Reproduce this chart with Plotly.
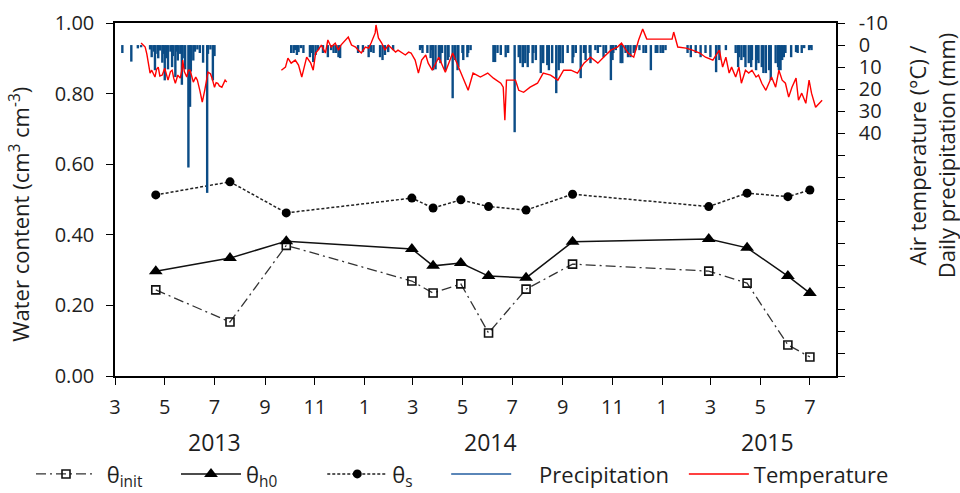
import plotly.graph_objects as go
import pandas as pd

START = pd.Timestamp("2013-03-01")

# ---- soil water content samples ----
sample_dates = ["2013-04-20", "2013-07-20", "2013-09-27", "2014-02-28", "2014-03-26",
                "2014-04-29", "2014-06-02", "2014-07-18", "2014-09-13", "2015-02-27",
                "2015-04-15", "2015-06-04", "2015-07-01"]
theta_init = [0.244, 0.153, 0.370, 0.269, 0.235, 0.261, 0.122, 0.246, 0.317, 0.297, 0.263, 0.088, 0.054]
theta_h0 = [0.297, 0.334, 0.382, 0.360, 0.312, 0.320, 0.283, 0.278, 0.380, 0.388, 0.363, 0.283, 0.235]
theta_s = [0.513, 0.550, 0.462, 0.504, 0.476, 0.499, 0.480, 0.470, 0.515, 0.480, 0.518, 0.508, 0.527]

# ---- daily air temperature (days since 2013-03-01, degC); None = no data ----
temp_day = [32, 35, 37, 39, 41, 43, 45, 47, 49, 51, 53, 55, 58, 61, 63, 65, 68, 70, 72, 74, 77, 80, 82, 83,
            85, 88, 90, 92, 94, 96, 99, 101, 104, 107, 110, 112, 114, 117, 119, 122, 124, 126, 128, 131,
            133, 135, 137,
            170,
            204, 209, 212, 216, 221, 225, 229, 231, 235, 240, 243, 246, 249, 253, 258, 261, 265, 270, 274,
            277, 282, 286, 290, 295, 298, 302, 307, 311, 314, 319, 320, 323, 327, 331, 335, 339, 344, 347,
            351, 356, 360, 363, 368, 372, 376, 381, 384, 389, 397, 405, 414, 421, 427, 433, 439, 448, 457,
            464, 473, 476, 478, 480, 491, 495, 501, 509, 518, 525, 534, 543, 550, 559, 567, 575, 583, 592,
            599, 608, 616, 621, 629, 636, 642, 647, 651, 652, 683, 685, 690, 700, 708, 717, 724, 733, 741,
            745, 749, 753, 756, 761, 765, 768, 773, 777, 781, 786, 789, 793, 798, 802, 805, 810, 814, 818,
            822, 826, 830, 835, 838, 842, 847, 851, 854, 859, 863, 867]
temp_c = [-0.9, 0.5, 0.9, 4.0, 8.2, 12.7, 11.4, 13.0, 14.5, 11.0, 10.0, 14.0, 13.6, 10.5, 14.0, 15.9, 12.0,
          11.4, 15.0, 17.3, 13.6, 15.0, 11.4, 6.8, 12.0, 14.5, 11.4, 11.4, 14.0, 16.8, 14.5, 15.9, 20.5,
          25.9, 20.5, 16.0, 12.3, 13.0, 15.0, 19.1, 17.0, 17.3, 18.5, 19.1, 17.0, 15.9, 16.8,
          None,
          11.4, 10.0, 5.9, 8.2, 6.8, 9.1, 14.5, 11.4, 5.5, 8.2, 11.4, 3.6, 2.3, 0.0, 3.6, -2.3, 0.9, -0.9,
          2.3, 0.0, -2.3, -3.6, 0.0, 0.9, 2.3, 3.6, 0.9, 1.4, -0.9, -5.5, -9.1, -3.2, -0.9, 2.3, 0.0, 1.4,
          3.2, 2.3, 3.2, 4.5, 3.2, 3.6, 6.8, 12.7, 6.8, 4.5, 8.2, 11.4, 5.5, 12.3, 3.6, 10.0, 15.9, 20.5,
          12.7, 14.5, 12.7, 15.0, 17.3, 19.1, 34.1, 15.9, 15.9, 20.5, 21.4, 19.1, 17.3, 12.7, 13.6, 15.9,
          11.4, 11.4, 12.7, 8.2, 5.5, 8.2, 5.5, 2.3, 0.9, -0.9, 3.6, 5.5, -2.3, -7.3, -3.6, -2.7, -2.7,
          -5.9, 0.9, 1.4, 2.3, 3.6, 5.5, 6.8, 2.3, 10.0, 5.5, 12.7, 10.0, 14.5, 10.0, 17.3, 11.4, 12.7,
          11.4, 14.5, 13.6, 17.3, 20.5, 17.3, 14.5, 19.1, 11.4, 15.9, 17.3, 23.6, 19.1, 15.0, 25.0, 21.8,
          26.4, 15.9, 21.8, 28.2, 26.4, 25.0]

# ---- daily precipitation (days since 2013-03-01, mm) ----
precip_day = [9, 20, 28, 32, 43, 45, 48, 49, 52, 53, 55, 58, 59, 61, 63, 65, 68, 70, 71, 74, 76, 77, 80,
              82, 83, 86, 90, 92, 93, 96, 98, 101, 104, 108, 113, 114, 117, 120, 122,
              216, 219, 221, 223, 225, 228, 231, 239, 241, 243, 246, 249, 255, 261, 265, 268, 271, 274,
              276, 298, 304, 311, 314, 317, 325, 328, 331, 335, 341, 374, 376, 377, 383, 387, 389, 390,
              393, 397, 399, 401, 405, 408, 409, 414, 417, 420, 421, 426, 427, 432, 433, 436, 464, 466,
              469, 473, 479, 482, 490, 495, 497, 500, 503, 506, 507, 512, 513, 516, 522, 525, 530, 532,
              536, 541, 544, 546, 549, 555, 561, 562, 565, 571, 575, 577, 582, 583, 589, 592, 595, 599,
              602, 608, 610, 611, 614, 620, 622, 626, 629, 632, 636, 638, 643, 648, 651, 657, 663, 665,
              669, 672, 675, 702, 706, 712, 718, 724, 730, 737, 740, 741, 749, 761, 764, 765, 768, 771,
              773, 777, 780, 781, 786, 788, 789, 793, 795, 798, 802, 804, 810, 813, 814, 816, 818, 820,
              822, 829, 835, 837, 842, 845, 851, 853, 854]
precip_mm = [3.6, 7.5, 1.5, 1.0, 2.0, 5.5, 3.0, 11.4, 4.0, 6.0, 2.5, 8.0, 4.0, 16.0, 6.0, 11.0, 3.0, 10.0,
             5.0, 14.5, 3.0, 7.0, 4.0, 18.0, 6.0, 11.0, 55.5, 28.0, 12.0, 7.0, 3.0, 2.0, 3.6, 8.0, 67.0,
             4.0, 2.0, 16.0, 5.0,
             3.6, 3.6, 2.3, 4.5, 3.2, 1.4, 3.6, 5.5, 3.6, 7.7, 4.5, 2.3, 3.6, 5.5, 2.3, 3.6, 3.6, 5.5,
             5.9, 3.6, 3.2, 5.5, 3.2, 3.6, 5.5, 6.8, 4.5, 3.2, 2.3, 2.3, 1.4, 3.6, 3.6, 5.9, 2.3, 11.4,
             11.0, 6.8, 8.2, 3.6, 11.4, 6.8, 5.5, 24.1, 6.8, 11.4, 10.0, 3.6, 6.8, 5.5, 3.6, 2.3, 7.7,
             7.7, 3.6, 4.5, 5.5, 3.6, 39.5, 5.5, 8.2, 10.0, 8.2, 10.0, 3.6, 8.2, 3.6, 6.8, 12.7, 8.2,
             9.1, 11.4, 8.2, 21.8, 11.4, 8.2, 8.2, 3.6, 8.2, 5.5, 3.6, 15.0, 3.6, 6.8, 3.6, 8.2, 2.3,
             3.6, 0.9, 5.5, 3.6, 15.9, 6.8, 3.6, 2.3, 8.2, 8.2, 3.6, 5.5, 5.5, 3.6, 2.3, 2.3, 3.6, 3.6,
             11.4, 3.6, 3.6, 3.6, 3.6, 2.3, 3.6, 5.5, 3.6, 5.5, 3.6, 5.5, 12.3, 3.6, 6.8, 2.3, 3.6,
             10.0, 5.5, 6.8, 5.5, 10.0, 8.2, 10.0, 6.8, 11.4, 6.8, 8.2, 10.0, 12.7, 12.7, 11.4, 15.9,
             8.2, 10.0, 11.4, 11.4, 6.8, 5.5, 3.6, 5.5, 3.2, 3.6, 3.6, 1.4, 2.3, 1.4, 2.3]

# ---- axis ticks / labels ----
month_tick_dates = ["2013-03-01", "2013-05-01", "2013-07-01", "2013-09-01", "2013-11-01",
                    "2014-01-01", "2014-03-01", "2014-05-01", "2014-07-01", "2014-09-01", "2014-11-01",
                    "2015-01-01", "2015-03-01", "2015-05-01", "2015-07-01"]
month_tick_labels = ["3", "5", "7", "9", "11", "1", "3", "5", "7", "9", "11", "1", "3", "5", "7"]
years = ["2013", "2014", "2015"]
year_label_dates = ["2013-07-01", "2014-06-04", "2015-05-10"]
left_tick_vals = [0.0, 0.2, 0.4, 0.6, 0.8, 1.0]
right_tick_vals = [-10, 0, 10, 20, 30, 40]
right_tick_text = ["-10", "0", "10", "20", "30", "40"]
right_minor_vals = list(range(50, 151, 10))

FONT = "Open Sans"
TXT = "#1e1e1e"
NB = "\u00a0"

temp_x = [START + pd.Timedelta(days=d) for d in temp_day]
pr_x, pr_y = [], []
for d, v in zip(precip_day, precip_mm):
    t = START + pd.Timedelta(days=d)
    pr_x += [t, t, None]
    pr_y += [0, v, None]

fig = go.Figure()

fig.add_trace(go.Scatter(
    x=sample_dates, y=theta_init, name=NB + "θ<sub>init</sub>" + NB * 5, mode="lines+markers",
    line=dict(color="#333333", width=1.3, dash="10px,4px,2px,4px"),
    marker=dict(symbol="square-open", size=8, color="#111111", line=dict(width=1.6, color="#111111")),
))
fig.add_trace(go.Scatter(
    x=sample_dates, y=theta_h0, name="θ<sub>h0</sub>" + NB * 7, mode="lines+markers",
    line=dict(color="#111111", width=1.5),
    marker=dict(symbol="triangle-up", size=12, color="#000000"),
))
fig.add_trace(go.Scatter(
    x=sample_dates, y=theta_s, name="θ<sub>s</sub>" + NB * 5, mode="lines+markers",
    line=dict(color="#222222", width=1.5, dash="3px,2px"),
    marker=dict(symbol="circle", size=9, color="#000000"),
))
fig.add_trace(go.Scatter(
    x=pr_x, y=pr_y, yaxis="y2", mode="lines", name="Precipitation", showlegend=False,
    line=dict(color="#0b4c86", width=2.4), legendgroup="p",
))
fig.add_trace(go.Scatter(
    x=[None], y=[None], yaxis="y2", mode="lines", name=NB * 4 + "Precipitation",
    line=dict(color="#5a86b8", width=2), legendgroup="p",
))
fig.add_trace(go.Scatter(
    x=temp_x, y=temp_c, yaxis="y2", mode="lines", name="Temperature", legend="legend2",
    line=dict(color="#ff0000", width=1.4),
))

for yr, d in zip(years, year_label_dates):
    fig.add_annotation(x=d, y=-0.187, xref="x", yref="paper", text=yr, showarrow=False,
                       font=dict(family=FONT, size=23, color=TXT), yanchor="middle")

fig.add_annotation(x=-0.132, y=0.459, xref="paper", yref="paper", textangle=-90, showarrow=False,
                   text="Water content (cm<sup>3</sup> cm<sup>-3</sup>)",
                   font=dict(family=FONT, size=22, color=TXT), xanchor="center", yanchor="middle")
fig.add_annotation(x=1.132, y=0.626, xref="paper", yref="paper", textangle=-90, showarrow=False,
                   text="Air temperature (°C) /<br>Daily precipitation (mm)",
                   font=dict(family=FONT, size=22, color=TXT), xanchor="center", yanchor="middle")

axis_common = dict(showline=True, linecolor="#000000", linewidth=1.5, ticks="outside", ticklen=7,
                   tickcolor="#000000", tickwidth=1.2, showgrid=False, zeroline=False,
                   tickfont=dict(family=FONT, size=20, color=TXT))
legend_common = dict(orientation="h", y=-0.278, xanchor="left", yanchor="middle",
                     font=dict(family=FONT, size=22, color=TXT), itemwidth=60,
                     bgcolor="rgba(0,0,0,0)")

fig.update_layout(
    width=960, height=493,
    margin=dict(l=115, r=124, t=23, b=117, autoexpand=False),
    paper_bgcolor="white", plot_bgcolor="white",
    font=dict(family=FONT, color=TXT),
    xaxis=dict(type="date", range=["2013-03-01", "2015-08-02"], tickmode="array",
               tickvals=month_tick_dates, ticktext=month_tick_labels, mirror=True,
               ticklabelstandoff=5, **axis_common),
    yaxis=dict(range=[0, 1], tickmode="array", tickvals=left_tick_vals, tickformat=".2f",
               ticklabelstandoff=8, **axis_common),
    yaxis2=dict(overlaying="y", side="right", range=[150, -10], tickmode="array",
                tickvals=right_tick_vals, ticktext=right_tick_text, ticklabelstandoff=10,
                minor=dict(tickmode="array", tickvals=right_minor_vals, ticks="outside", ticklen=7,
                           tickcolor="#000000", tickwidth=1.2, showgrid=False),
                **axis_common),
    legend=dict(x=-0.1165, **legend_common),
    legend2=dict(x=0.789, **legend_common),
    showlegend=True,
)

fig.write_html("out.html")
